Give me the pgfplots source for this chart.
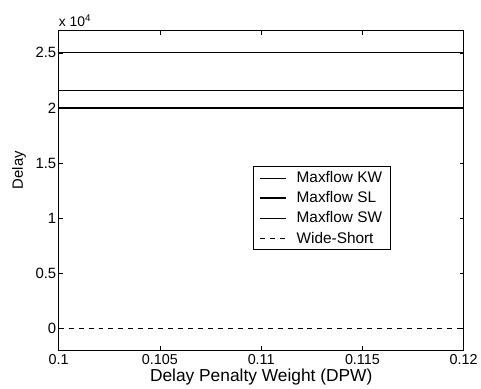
\documentclass[border=0pt]{standalone}
\usepackage{fontspec}
\setmainfont{Liberation Sans}
\usepackage{pgfplots}
\pgfplotsset{compat=1.18}
\begin{document}
\begin{tikzpicture}
\begin{axis}[
  name=main,
  at={(0,0)}, anchor=south west,
  scale only axis,
  width=407bp, height=321bp,
  xmin=0.1, xmax=0.12,
  ymin=-2000, ymax=27000,
  xtick={0.1,0.105,0.11,0.115,0.12},
  xticklabels={0.1,0.105,0.11,0.115,0.12},
  ytick={0,5000,10000,15000,20000,25000},
  yticklabels={0,0.5,1,1.5,2,2.5},
  scaled y ticks=false,
  scaled x ticks=false,
  tick align=inside,
  major tick length=4bp,
  axis line style={line width=1pt},
  tick style={line width=0.6pt, black},
  ticklabel style={font=\fontsize{15}{17}\selectfont},
  xticklabel style={font=\fontsize{14.5}{16}\selectfont, inner ysep=1bp, yshift=-3bp},
  yticklabel style={xshift=1bp},
  /pgf/number format/assume math mode=true,
  xlabel={Delay Penalty Weight (DPW)},
  ylabel={Delay},
  xlabel style={font=\fontsize{17.5}{20}\selectfont, at={(axis description cs:0.5,0)}, anchor=base, yshift=-31.5bp, inner sep=0pt},
  ylabel style={font=\fontsize{15}{17}\selectfont, at={(axis description cs:-0.098,0.564)}, anchor=center, inner sep=0pt},
  legend style={
    at={(0.479,0.576)}, anchor=north west,
    draw=black, line width=0.8pt,
    font=\fontsize{15.5}{17}\selectfont,
    nodes={inner ysep=2bp},
    row sep=3.5bp, inner xsep=6bp, inner ysep=3bp,
    legend cell align=left,
  },
  legend image code/.code={\draw[#1] (0bp,0bp) -- (26bp,0bp); \path (0bp,0bp) (34bp,0bp);},
]
\addplot[black, line width=0.8pt] coordinates {(0.1,25000) (0.12,25000)};
\addlegendentry{Maxflow KW}
\addplot[black, line width=1.8pt] coordinates {(0.1,20000) (0.12,20000)};
\addlegendentry{Maxflow SL}
\addplot[black, line width=0.6pt] coordinates {(0.1,21600) (0.12,21600)};
\addlegendentry{Maxflow SW}
\addplot[black, line width=0.8pt, dash pattern=on 5bp off 5bp] coordinates {(0.1,0) (0.12,0)};
\addlegendentry{Wide-Short}
\end{axis}
\node[anchor=base west, inner sep=0pt, font=\fontsize{14}{16}\selectfont] at ([yshift=4bp]main.north west) {x 10\textsuperscript{4}};
\useasboundingbox (-59bp,-38bp) rectangle (422bp,352bp);
\end{tikzpicture}
\end{document}
